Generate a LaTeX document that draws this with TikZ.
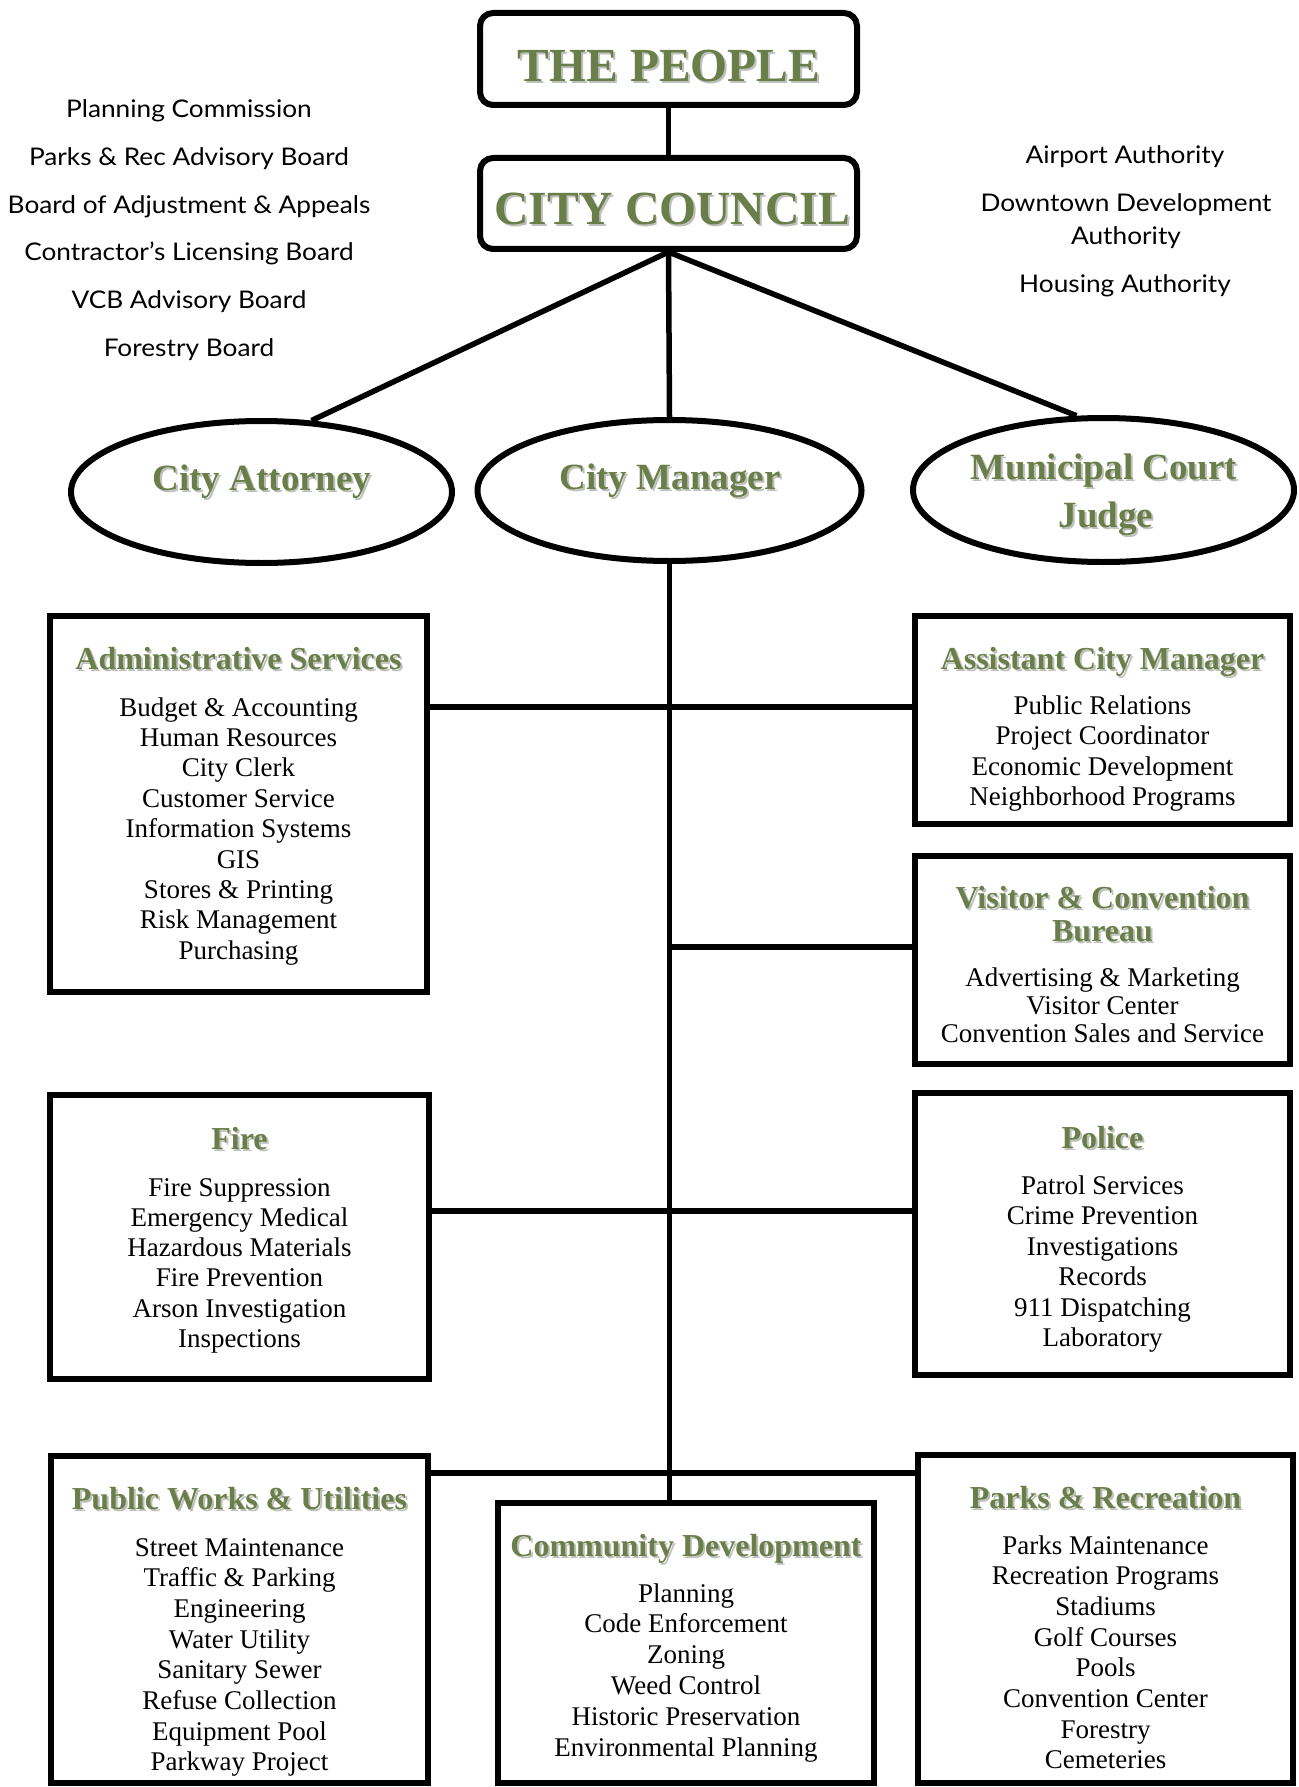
\documentclass[tikz,border=0pt]{standalone}
\usepackage{fontspec}
\setmainfont{Liberation Serif}
\newfontfamily\labfont[FakeStretch=1.08]{Lato}
\usetikzlibrary{shapes.geometric}
\definecolor{tgreen}{RGB}{106,126,74}
\definecolor{tshadow}{RGB}{190,192,188}
\newcommand\gshad[1]{\rlap{\color{tshadow}\kern2pt\raisebox{-2pt}{#1}}{\color{tgreen}#1}}
\newcommand\itemlist[5]{%
  \foreach \t [count=\i from 0] in {#5}
    \node[itm, name=#1-\i] at (#2, #3+\i*#4) {\t};}
\begin{document}
\begin{tikzpicture}[x=1pt,y=-1pt,
  bx/.style={draw, line width=6pt, rectangle, inner sep=0pt},
  rbx/.style={draw, line width=6pt, rectangle, rounded corners=13pt, inner sep=0pt},
  ell/.style={draw, line width=6pt, ellipse, inner sep=0pt},
  conn/.style={line width=5.5pt},
  itm/.style={font=\fontsize{27}{30}\selectfont, inner sep=0pt, anchor=base},
  ttl/.style={font=\fontsize{32}{34}\selectfont\bfseries, inner sep=0pt, anchor=base},
  etl/.style={font=\fontsize{37}{40}\selectfont\bfseries, inner sep=0pt, anchor=base},
  htl/.style={font=\fontsize{47.5}{50}\selectfont\bfseries, inner sep=0pt, anchor=base},
  lab/.style={font=\labfont\fontsize{24.3}{26}\selectfont, inner sep=0pt, anchor=base}]
\useasboundingbox (0,0) rectangle (1298,1787);

% top boxes
\node[rbx, minimum width=377pt, minimum height=92pt] (people) at (668.5,59) {};
\node[htl] (peoplet) at (669,82) {\gshad{THE PEOPLE}};
\node[rbx, minimum width=377pt, minimum height=91pt] (council) at (668.5,203.5) {};
\node[htl, font=\fontsize{47.6}{50}\selectfont\bfseries] (councilt) at (672,225) {\gshad{CITY COUNCIL}};

% side labels
\foreach \t [count=\i from 0] in {Planning Commission, Parks \& Rec Advisory Board, Board of Adjustment \& Appeals, Contractor’s Licensing Board, VCB Advisory Board, Forestry Board}
  \node[lab, name=left-\i] at (189, 118+\i*47.6) {\t};
\node[lab] (air) at (1125,164) {Airport Authority};
\node[lab] (dda1) at (1126,212) {Downtown Development};
\node[lab] (dda2) at (1126,244) {Authority};
\node[lab] (hous) at (1125,292) {Housing Authority};

% ellipses
\node[ell, minimum width=381pt, minimum height=142pt] (att) at (261.5,492) {};
\node[etl] (attt) at (262,490) {\gshad{City Attorney}};
\node[ell, minimum width=384pt, minimum height=141pt] (man) at (669.5,490.5) {};
\node[etl] (mant) at (670,489) {\gshad{City Manager}};
\node[ell, minimum width=381pt, minimum height=144pt] (mun) at (1103.5,490) {};
\node[etl] (mun1) at (1104,479) {\gshad{Municipal Court}};
\node[etl] (mun2) at (1106,527) {\gshad{Judge}};

% department boxes
\node[bx, minimum width=377pt, minimum height=376pt] (adm) at (238.5,804) {};
\node[ttl] (admt) at (238.5,669) {\gshad{Administrative Services}};
\itemlist{admi}{238.5}{716}{30.4}{Budget \& Accounting, Human Resources, City Clerk, Customer Service, Information Systems, GIS, Stores \& Printing, Risk Management, Purchasing}

\node[bx, minimum width=375pt, minimum height=208pt] (acm) at (1102.5,720) {};
\node[ttl] (acmt) at (1102.5,669) {\gshad{Assistant City Manager}};
\itemlist{acmi}{1102.5}{714}{30.6}{Public Relations, Project Coordinator, Economic Development, Neighborhood Programs}

\node[bx, minimum width=375pt, minimum height=208pt] (vcb) at (1102.5,960) {};
\node[ttl] (vcbt1) at (1102.5,908) {\gshad{Visitor \& Convention}};
\node[ttl] (vcbt2) at (1102.5,941) {\gshad{Bureau}};
\itemlist{vcbi}{1102.5}{986}{28.3}{Advertising \& Marketing, Visitor Center, Convention Sales and Service}

\node[bx, minimum width=379pt, minimum height=284pt] (fire) at (239.5,1237) {};
\node[ttl] (firet) at (239.5,1149) {\gshad{Fire}};
\itemlist{firei}{239.5}{1196}{30.3}{Fire Suppression, Emergency Medical, Hazardous Materials, Fire Prevention, Arson Investigation, Inspections}

\node[bx, minimum width=375pt, minimum height=282pt] (police) at (1102.5,1234) {};
\node[ttl] (policet) at (1102.5,1148) {\gshad{Police}};
\itemlist{policei}{1102.5}{1194}{30.5}{Patrol Services, Crime Prevention, Investigations, Records, 911 Dispatching, Laboratory}

\node[bx, minimum width=377pt, minimum height=327pt] (pw) at (239.5,1619.5) {};
\node[ttl] (pwt) at (239.5,1509) {\gshad{Public Works \& Utilities}};
\itemlist{pwi}{239.5}{1556}{30.7}{Street Maintenance, Traffic \& Parking, Engineering, Water Utility, Sanitary Sewer, Refuse Collection, Equipment Pool, Parkway Project}

\node[bx, minimum width=376pt, minimum height=280pt] (cd) at (686,1643) {};
\node[ttl] (cdt) at (686,1556) {\gshad{Community Development}};
\itemlist{cdi}{686}{1602}{30.8}{Planning, Code Enforcement, Zoning, Weed Control, Historic Preservation, Environmental Planning}

\node[bx, minimum width=375pt, minimum height=328pt] (parks) at (1105.5,1619) {};
\node[ttl] (parkst) at (1105.5,1508) {\gshad{Parks \& Recreation}};
\itemlist{parksi}{1105.5}{1554}{30.7}{Parks Maintenance, Recreation Programs, Stadiums, Golf Courses, Pools, Convention Center, Forestry, Cemeteries}

% connectors
\draw[conn] (people.south) -- (council.north);
\draw[conn] (council.south) -- (att.55);
\draw[conn] (council.south) -- (man.north);
\draw[conn] (council.south) -- (mun.110);
\draw[conn] (man.south) -- (man.south |- cd.north);
\coordinate (j1) at (669.5,707);
\coordinate (j2) at (669.5,947);
\coordinate (j3) at (669.5,1211);
\coordinate (j4) at (669.5,1473);
\draw[conn] (adm.east |- j1) -- (acm.west |- j1);
\draw[conn] (j2) -- (vcb.west |- j2);
\draw[conn] (fire.east |- j3) -- (police.west |- j3);
\draw[conn] (pw.east |- j4) -- (parks.west |- j4);
\end{tikzpicture}
\end{document}
